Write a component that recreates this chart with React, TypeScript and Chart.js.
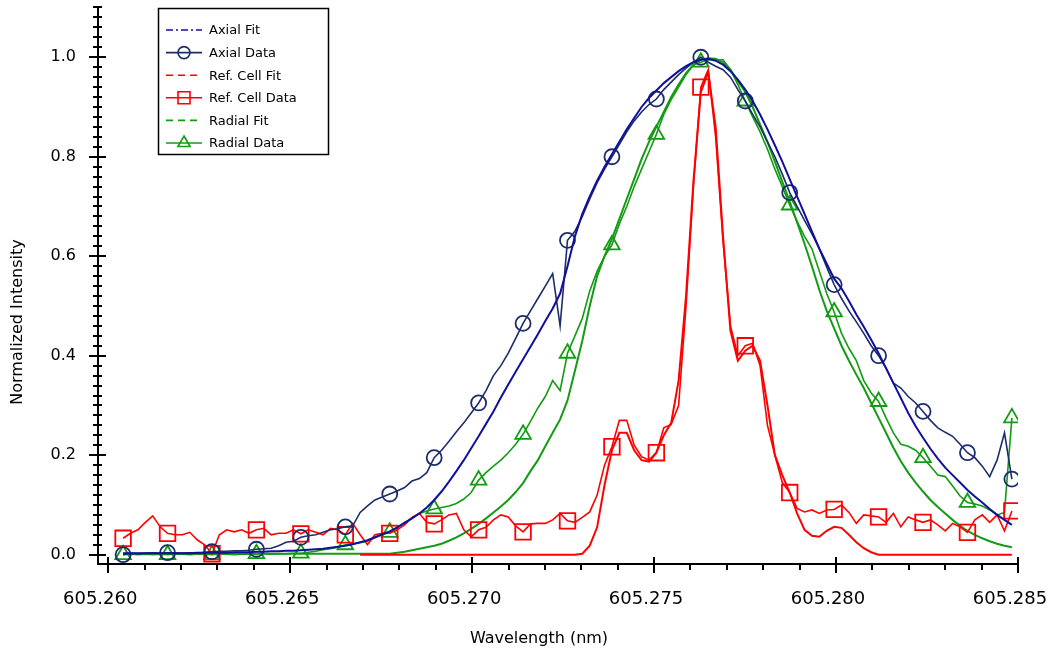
import React, { useEffect, useRef } from "react";
import { Chart, registerables } from "chart.js";

Chart.register(...registerables);

// ---- data -------------------------------------------------------------
// sampling grid of the spectra (nm)
const WL_START = 605.26041;
const WL_STEP = 0.00020352;
const N_POINTS = 121;
const wavelengths: number[] = Array.from({ length: N_POINTS }, (_, i) => +(WL_START + i * WL_STEP).toFixed(6));
const MARKER_EVERY = 6;

const axialFit = [
  0.003, 0.003, 0.003, 0.003, 0.003, 0.003, 0.003, 0.003, 0.003, 0.003, 0.004, 0.004,
  0.004, 0.004, 0.004, 0.005, 0.005, 0.005, 0.006, 0.006, 0.007, 0.007, 0.008, 0.008,
  0.009, 0.01, 0.011, 0.012, 0.014, 0.016, 0.018, 0.021, 0.025, 0.029, 0.035, 0.041,
  0.047, 0.055, 0.064, 0.073, 0.083, 0.095, 0.11, 0.127, 0.147, 0.168, 0.19, 0.214,
  0.238, 0.263, 0.288, 0.316, 0.342, 0.368, 0.393, 0.418, 0.443, 0.47, 0.495, 0.525,
  0.58, 0.64, 0.685, 0.72, 0.752, 0.78, 0.805, 0.83, 0.855, 0.878, 0.9, 0.918,
  0.933, 0.948, 0.96, 0.972, 0.982, 0.99, 0.995, 0.997, 0.993, 0.985, 0.972, 0.955,
  0.935, 0.912, 0.885, 0.855, 0.823, 0.79, 0.755, 0.72, 0.685, 0.65, 0.615, 0.585,
  0.555, 0.535, 0.51, 0.483, 0.458, 0.432, 0.405, 0.375, 0.345, 0.315, 0.285, 0.258,
  0.235, 0.213, 0.193, 0.175, 0.16, 0.145, 0.13, 0.117, 0.105, 0.092, 0.08, 0.07,
  0.06,
];

const axialData = [
  0.0, 0.003, 0.002, 0.003, 0.004, 0.003, 0.004, 0.004, 0.003, 0.004, 0.003, 0.005,
  0.006, 0.007, 0.007, 0.008, 0.008, 0.009, 0.011, 0.012, 0.013, 0.018, 0.025, 0.027,
  0.035, 0.038, 0.04, 0.045, 0.05, 0.052, 0.056, 0.058, 0.085, 0.098, 0.11, 0.116,
  0.122, 0.128, 0.135, 0.148, 0.153, 0.165, 0.195, 0.21, 0.228, 0.247, 0.265, 0.285,
  0.305, 0.33, 0.36, 0.38, 0.405, 0.435, 0.465, 0.49, 0.515, 0.54, 0.565, 0.46,
  0.632, 0.65, 0.68, 0.715, 0.748, 0.775, 0.8, 0.825, 0.85, 0.872, 0.89, 0.905,
  0.916, 0.935, 0.95, 0.965, 0.978, 0.99, 1.0, 0.99, 0.982, 0.975, 0.96, 0.935,
  0.912, 0.885, 0.86, 0.83, 0.8, 0.765, 0.728, 0.7, 0.672, 0.645, 0.615, 0.578,
  0.543, 0.515, 0.49, 0.468, 0.445, 0.42, 0.4, 0.375, 0.345, 0.335, 0.318, 0.305,
  0.288, 0.27, 0.255, 0.246, 0.238, 0.222, 0.205, 0.195, 0.178, 0.157, 0.19, 0.245,
  0.152,
];

const refCellFit: (number | null)[] = [
  null, null, null, null, null, null, null, null, null, null, null, null,
  null, null, null, null, null, null, null, null, null, null, null, null,
  null, null, null, null, null, null, null, null, 0, 0, 0, 0,
  0, 0, 0, 0, 0, 0, 0, 0, 0, 0, 0, 0,
  0, 0, 0, 0, 0, 0, 0, 0, 0, 0, 0, 0,
  0, 0, 0.002, 0.018, 0.055, 0.14, 0.21, 0.245, 0.245, 0.21, 0.19, 0.187,
  0.205, 0.24, 0.265, 0.35, 0.52, 0.75, 0.93, 0.97, 0.86, 0.64, 0.45, 0.39,
  0.41, 0.42, 0.39, 0.3, 0.2, 0.16, 0.125, 0.083, 0.05, 0.038, 0.036, 0.048,
  0.056, 0.054, 0.04, 0.025, 0.013, 0.005, 0, 0, 0, 0, 0, 0,
  0, 0, 0, 0, 0, 0, 0, 0, 0, 0, 0, 0,
  0,
];

const refCellData = [
  0.033, 0.043, 0.05, 0.065, 0.078, 0.056, 0.043, 0.04, 0.04, 0.045, 0.03, 0.02,
  0.002, 0.04, 0.05, 0.046, 0.05, 0.043, 0.05, 0.053, 0.04, 0.043, 0.043, 0.05,
  0.042, 0.05, 0.045, 0.04, 0.053, 0.05, 0.04, 0.063, 0.04, 0.02, 0.04, 0.043,
  0.043, 0.05, 0.06, 0.075, 0.083, 0.065, 0.062, 0.07, 0.08, 0.083, 0.05, 0.036,
  0.05, 0.055, 0.07, 0.08, 0.076, 0.058, 0.046, 0.062, 0.063, 0.063, 0.07, 0.083,
  0.068, 0.065, 0.075, 0.086, 0.12, 0.18, 0.217, 0.27, 0.27, 0.22, 0.197, 0.19,
  0.205, 0.255, 0.262, 0.3, 0.5, 0.74, 0.94, 0.975, 0.84, 0.63, 0.46, 0.4,
  0.42, 0.425, 0.38, 0.26, 0.2, 0.145, 0.125, 0.093, 0.086, 0.09, 0.083, 0.09,
  0.091, 0.1, 0.085, 0.063, 0.08, 0.078, 0.076, 0.065, 0.083, 0.056, 0.076, 0.07,
  0.065, 0.07, 0.06, 0.048, 0.063, 0.056, 0.045, 0.07, 0.08, 0.065, 0.08, 0.048,
  0.088,
];

const radialFit = [
  0.002, 0.002, 0.002, 0.002, 0.002, 0.002, 0.002, 0.002, 0.002, 0.002, 0.002, 0.002,
  0.002, 0.002, 0.002, 0.002, 0.002, 0.002, 0.002, 0.002, 0.002, 0.002, 0.002, 0.002,
  0.002, 0.002, 0.002, 0.002, 0.002, 0.002, 0.002, 0.002, 0.002, 0.002, 0.002, 0.002,
  0.002, 0.004, 0.006, 0.009, 0.012, 0.015, 0.018, 0.022, 0.028, 0.035, 0.043, 0.052,
  0.062, 0.073, 0.085, 0.097, 0.11, 0.126, 0.144, 0.168, 0.19, 0.218, 0.245, 0.272,
  0.31, 0.37, 0.43, 0.5, 0.56, 0.6, 0.635, 0.675, 0.715, 0.755, 0.795, 0.83,
  0.86, 0.89, 0.92, 0.945, 0.968, 0.985, 0.995, 0.998, 0.997, 0.99, 0.975, 0.952,
  0.93, 0.9, 0.865, 0.83, 0.79, 0.75, 0.71, 0.668, 0.625, 0.58, 0.532, 0.49,
  0.455, 0.42, 0.39, 0.362, 0.335, 0.305, 0.275, 0.245, 0.215, 0.188, 0.165, 0.145,
  0.127, 0.11, 0.096, 0.083, 0.07, 0.058, 0.048, 0.04, 0.033, 0.027, 0.022, 0.018,
  0.015,
];

const radialData = [
  0.0, 0.001, 0.0, 0.001, 0.0, 0.001, 0.0, 0.001, 0.001, 0.0, 0.001, 0.001,
  0.0, 0.001, 0.001, 0.0, 0.001, 0.001, 0.002, 0.002, 0.001, 0.002, 0.002, 0.003,
  0.003, 0.005, 0.007, 0.01, 0.012, 0.015, 0.02, 0.022, 0.024, 0.027, 0.034, 0.04,
  0.045, 0.054, 0.065, 0.073, 0.083, 0.088, 0.092, 0.095, 0.098, 0.103, 0.112, 0.125,
  0.15, 0.165, 0.178, 0.19, 0.205, 0.222, 0.242, 0.268, 0.295, 0.318, 0.35, 0.33,
  0.405, 0.44, 0.475, 0.53, 0.57, 0.6, 0.623, 0.665, 0.7, 0.74, 0.775, 0.81,
  0.845, 0.885, 0.915, 0.94, 0.965, 0.985, 0.99, 0.995, 0.995, 0.995, 0.975, 0.945,
  0.912, 0.88, 0.85, 0.815, 0.775, 0.74, 0.703, 0.67, 0.64, 0.615, 0.57, 0.525,
  0.488, 0.445, 0.415, 0.39, 0.35, 0.325, 0.308, 0.275, 0.245, 0.222, 0.218, 0.21,
  0.195, 0.178, 0.16, 0.157, 0.138, 0.118, 0.105, 0.102, 0.098, 0.09, 0.08, 0.085,
  0.275,
];

const xMajorTicks = [605.26, 605.265, 605.27, 605.275, 605.28, 605.285];
const yMajorTicks = [0, 0.2, 0.4, 0.6, 0.8, 1.0];
const X_MIN = 605.25972;
const X_MAX = 605.285;
const Y_MIN = -0.0187;
const Y_MAX = 1.103;
const X_MINOR_STEP = 0.001;
const Y_MINOR_STEP = 0.02;
const X_TITLE = "Wavelength (nm)";
const Y_TITLE = "Normalized Intensity";

const FONT = '"DejaVu Sans", Verdana, sans-serif';

// ---- styles -----------------------------------------------------------
const C_AXIAL_FIT = "#10109a";
const C_AXIAL_DATA = "#1c2c6c";
const C_RED = "#ff0000";
const C_GREEN = "#139b13";

type LegendStyle = { dash: number[]; marker: string | null; size: number };
const legendStyles: LegendStyle[] = [
  { dash: [7, 3, 2, 3], marker: null, size: 0 },
  { dash: [], marker: "circle", size: 6 },
  { dash: [7, 5], marker: null, size: 0 },
  { dash: [], marker: "rect", size: 6 },
  { dash: [7, 5], marker: null, size: 0 },
  { dash: [], marker: "triangle", size: 7 },
];

function drawMarker(ctx: CanvasRenderingContext2D, style: string, x: number, y: number, s: number) {
  ctx.beginPath();
  if (style === "circle") {
    ctx.arc(x, y, s, 0, Math.PI * 2);
  } else if (style === "rect") {
    ctx.rect(x - s, y - s, 2 * s, 2 * s);
  } else if (style === "triangle") {
    ctx.moveTo(x, y - s);
    ctx.lineTo(x + s * 0.866, y + s * 0.5);
    ctx.lineTo(x - s * 0.866, y + s * 0.5);
    ctx.closePath();
  }
  ctx.stroke();
}

const axesPlugin = {
  id: "axesTicks",
  afterDatasetsDraw(chart: any) {
    const { ctx, chartArea, scales } = chart;
    const { left, right, top, bottom } = chartArea;
    const xs = scales.x;
    const ys = scales.y;
    ctx.save();
    ctx.strokeStyle = "#000";
    ctx.lineWidth = 2;
    ctx.setLineDash([]);
    ctx.beginPath();
    ctx.moveTo(left, top);
    ctx.lineTo(left, bottom);
    ctx.moveTo(left - 1, bottom);
    ctx.lineTo(right, bottom);
    ctx.stroke();
    ctx.beginPath();
    const nY = Math.round(Y_MAX / Y_MINOR_STEP);
    for (let k = 0; k <= nY; k++) {
      const v = k * Y_MINOR_STEP;
      if (v > Y_MAX + 1e-9) break;
      const py = Math.round(ys.getPixelForValue(v));
      const major = yMajorTicks.some((t) => Math.abs(t - v) < 1e-6);
      const a = major ? 9 : 5;
      const b = major ? 8 : 4;
      ctx.moveTo(left - a, py);
      ctx.lineTo(left + b, py);
    }
    const nX = Math.round((X_MAX - xMajorTicks[0]) / X_MINOR_STEP);
    for (let k = 0; k <= nX; k++) {
      const v = xMajorTicks[0] + k * X_MINOR_STEP;
      const px = Math.round(xs.getPixelForValue(v));
      const major = xMajorTicks.some((t) => Math.abs(t - v) < 1e-7);
      ctx.moveTo(px, bottom - (major ? 7 : 0));
      ctx.lineTo(px, bottom + (major ? 9 : 6));
    }
    ctx.stroke();

    // axis titles
    ctx.fillStyle = "#000";
    ctx.textAlign = "center";
    ctx.textBaseline = "middle";
    ctx.font = `16px ${FONT}`;
    ctx.fillText(X_TITLE, 539, 639);
    ctx.save();
    ctx.translate(18, 322);
    ctx.rotate(-Math.PI / 2);
    ctx.fillText(Y_TITLE, 0, 0);
    ctx.restore();
    ctx.restore();
  },
};

const legendPlugin = {
  id: "boxLegend",
  afterDraw(chart: any) {
    const ctx: CanvasRenderingContext2D = chart.ctx;
    const ds = chart.data.datasets;
    ctx.save();
    ctx.fillStyle = "#fff";
    ctx.fillRect(158, 8, 170, 146);
    ctx.strokeStyle = "#000";
    ctx.lineWidth = 1.5;
    ctx.setLineDash([]);
    ctx.strokeRect(158.5, 8.5, 170, 146);
    ds.forEach((d: any, k: number) => {
      const st = legendStyles[k];
      const y = 30 + k * 22.6;
      ctx.strokeStyle = d.borderColor;
      ctx.lineWidth = 1.6;
      ctx.setLineDash(st.dash);
      ctx.beginPath();
      ctx.moveTo(166, y);
      ctx.lineTo(202, y);
      ctx.stroke();
      ctx.setLineDash([]);
      if (st.marker) drawMarker(ctx, st.marker, 184, y, st.size);
      ctx.fillStyle = "#000";
      ctx.font = `13px ${FONT}`;
      ctx.textBaseline = "middle";
      ctx.textAlign = "left";
      ctx.fillText(d.label, 209, y + 1);
    });
    ctx.restore();
  },
};

const markerRadius = (r: number) => (c: any) => (c.dataIndex % MARKER_EVERY === 0 ? r : 0);

export default function App() {
  const canvasRef = useRef<HTMLCanvasElement | null>(null);

  useEffect(() => {
    document.body.style.margin = "0";
    const canvas = canvasRef.current;
    if (!canvas) return;
    const toXY = (arr: (number | null)[]) => arr.map((v, i) => ({ x: wavelengths[i], y: v }));
    const chart = new Chart(canvas, {
      type: "line",
      data: {
        datasets: [
          { label: "Axial Fit", data: toXY(axialFit), borderColor: C_AXIAL_FIT, borderWidth: 2, pointRadius: 0 },
          {
            label: "Axial Data",
            data: toXY(axialData),
            borderColor: C_AXIAL_DATA,
            borderWidth: 1.6,
            pointStyle: "circle",
            pointRadius: markerRadius(7.5),
            pointBorderColor: C_AXIAL_DATA,
            pointBackgroundColor: "rgba(0,0,0,0)",
            pointBorderWidth: 1.8,
          },
          { label: "Ref. Cell Fit", data: toXY(refCellFit), borderColor: C_RED, borderWidth: 2, pointRadius: 0 },
          {
            label: "Ref. Cell Data",
            data: toXY(refCellData),
            borderColor: C_RED,
            borderWidth: 1.6,
            pointStyle: "rect",
            pointRadius: markerRadius(11),
            pointBorderColor: C_RED,
            pointBackgroundColor: "rgba(0,0,0,0)",
            pointBorderWidth: 1.8,
          },
          { label: "Radial Fit", data: toXY(radialFit), borderColor: C_GREEN, borderWidth: 2, pointRadius: 0 },
          {
            label: "Radial Data",
            data: toXY(radialData),
            borderColor: C_GREEN,
            borderWidth: 1.6,
            pointStyle: "triangle",
            pointRadius: markerRadius(9),
            pointBorderColor: C_GREEN,
            pointBackgroundColor: "rgba(0,0,0,0)",
            pointBorderWidth: 1.8,
          },
        ],
      },
      options: {
        animation: false,
        responsive: false,
        maintainAspectRatio: false,
        devicePixelRatio: 1,
        layout: { autoPadding: false, padding: { left: 0, top: 6, right: 33, bottom: 0 } },
        plugins: { legend: { display: false }, tooltip: { enabled: false }, title: { display: false } },
        elements: { line: { fill: false }, point: { hoverRadius: 0 } },
        scales: {
          x: {
            type: "linear",
            min: X_MIN,
            max: X_MAX,
            grid: { display: false, drawTicks: false },
            border: { display: false },
            afterBuildTicks: (s: any) => {
              s.ticks = xMajorTicks.map((v) => ({ value: v }));
            },
            afterFit: (s: any) => {
              s.height = 92;
              s.paddingLeft = 0;
              s.paddingRight = 0;
            },
            ticks: {
              autoSkip: false,
              maxRotation: 0,
              padding: 25,
              labelOffset: -8,
              color: "#000",
              font: { family: FONT, size: 18 },
              callback: (v: any) => Number(v).toFixed(3),
            },
          },
          y: {
            type: "linear",
            min: Y_MIN,
            max: Y_MAX,
            grid: { display: false, drawTicks: false },
            border: { display: false },
            afterBuildTicks: (s: any) => {
              s.ticks = yMajorTicks.map((v) => ({ value: v }));
            },
            afterFit: (s: any) => {
              s.width = 98;
              s.paddingTop = 0;
              s.paddingBottom = 0;
            },
            ticks: {
              autoSkip: false,
              padding: 22,
              color: "#000",
              font: { family: FONT, size: 16 },
              callback: (v: any) => Number(v).toFixed(1),
            },
          },
        },
      },
      plugins: [axesPlugin, legendPlugin],
    } as any);
    return () => chart.destroy();
  }, []);

  return (
    <div style={{ position: "fixed", left: 0, top: 0, width: 1051, height: 656, background: "#fff" }}>
      <canvas ref={canvasRef} width={1051} height={656} style={{ display: "block" }} />
    </div>
  );
}
